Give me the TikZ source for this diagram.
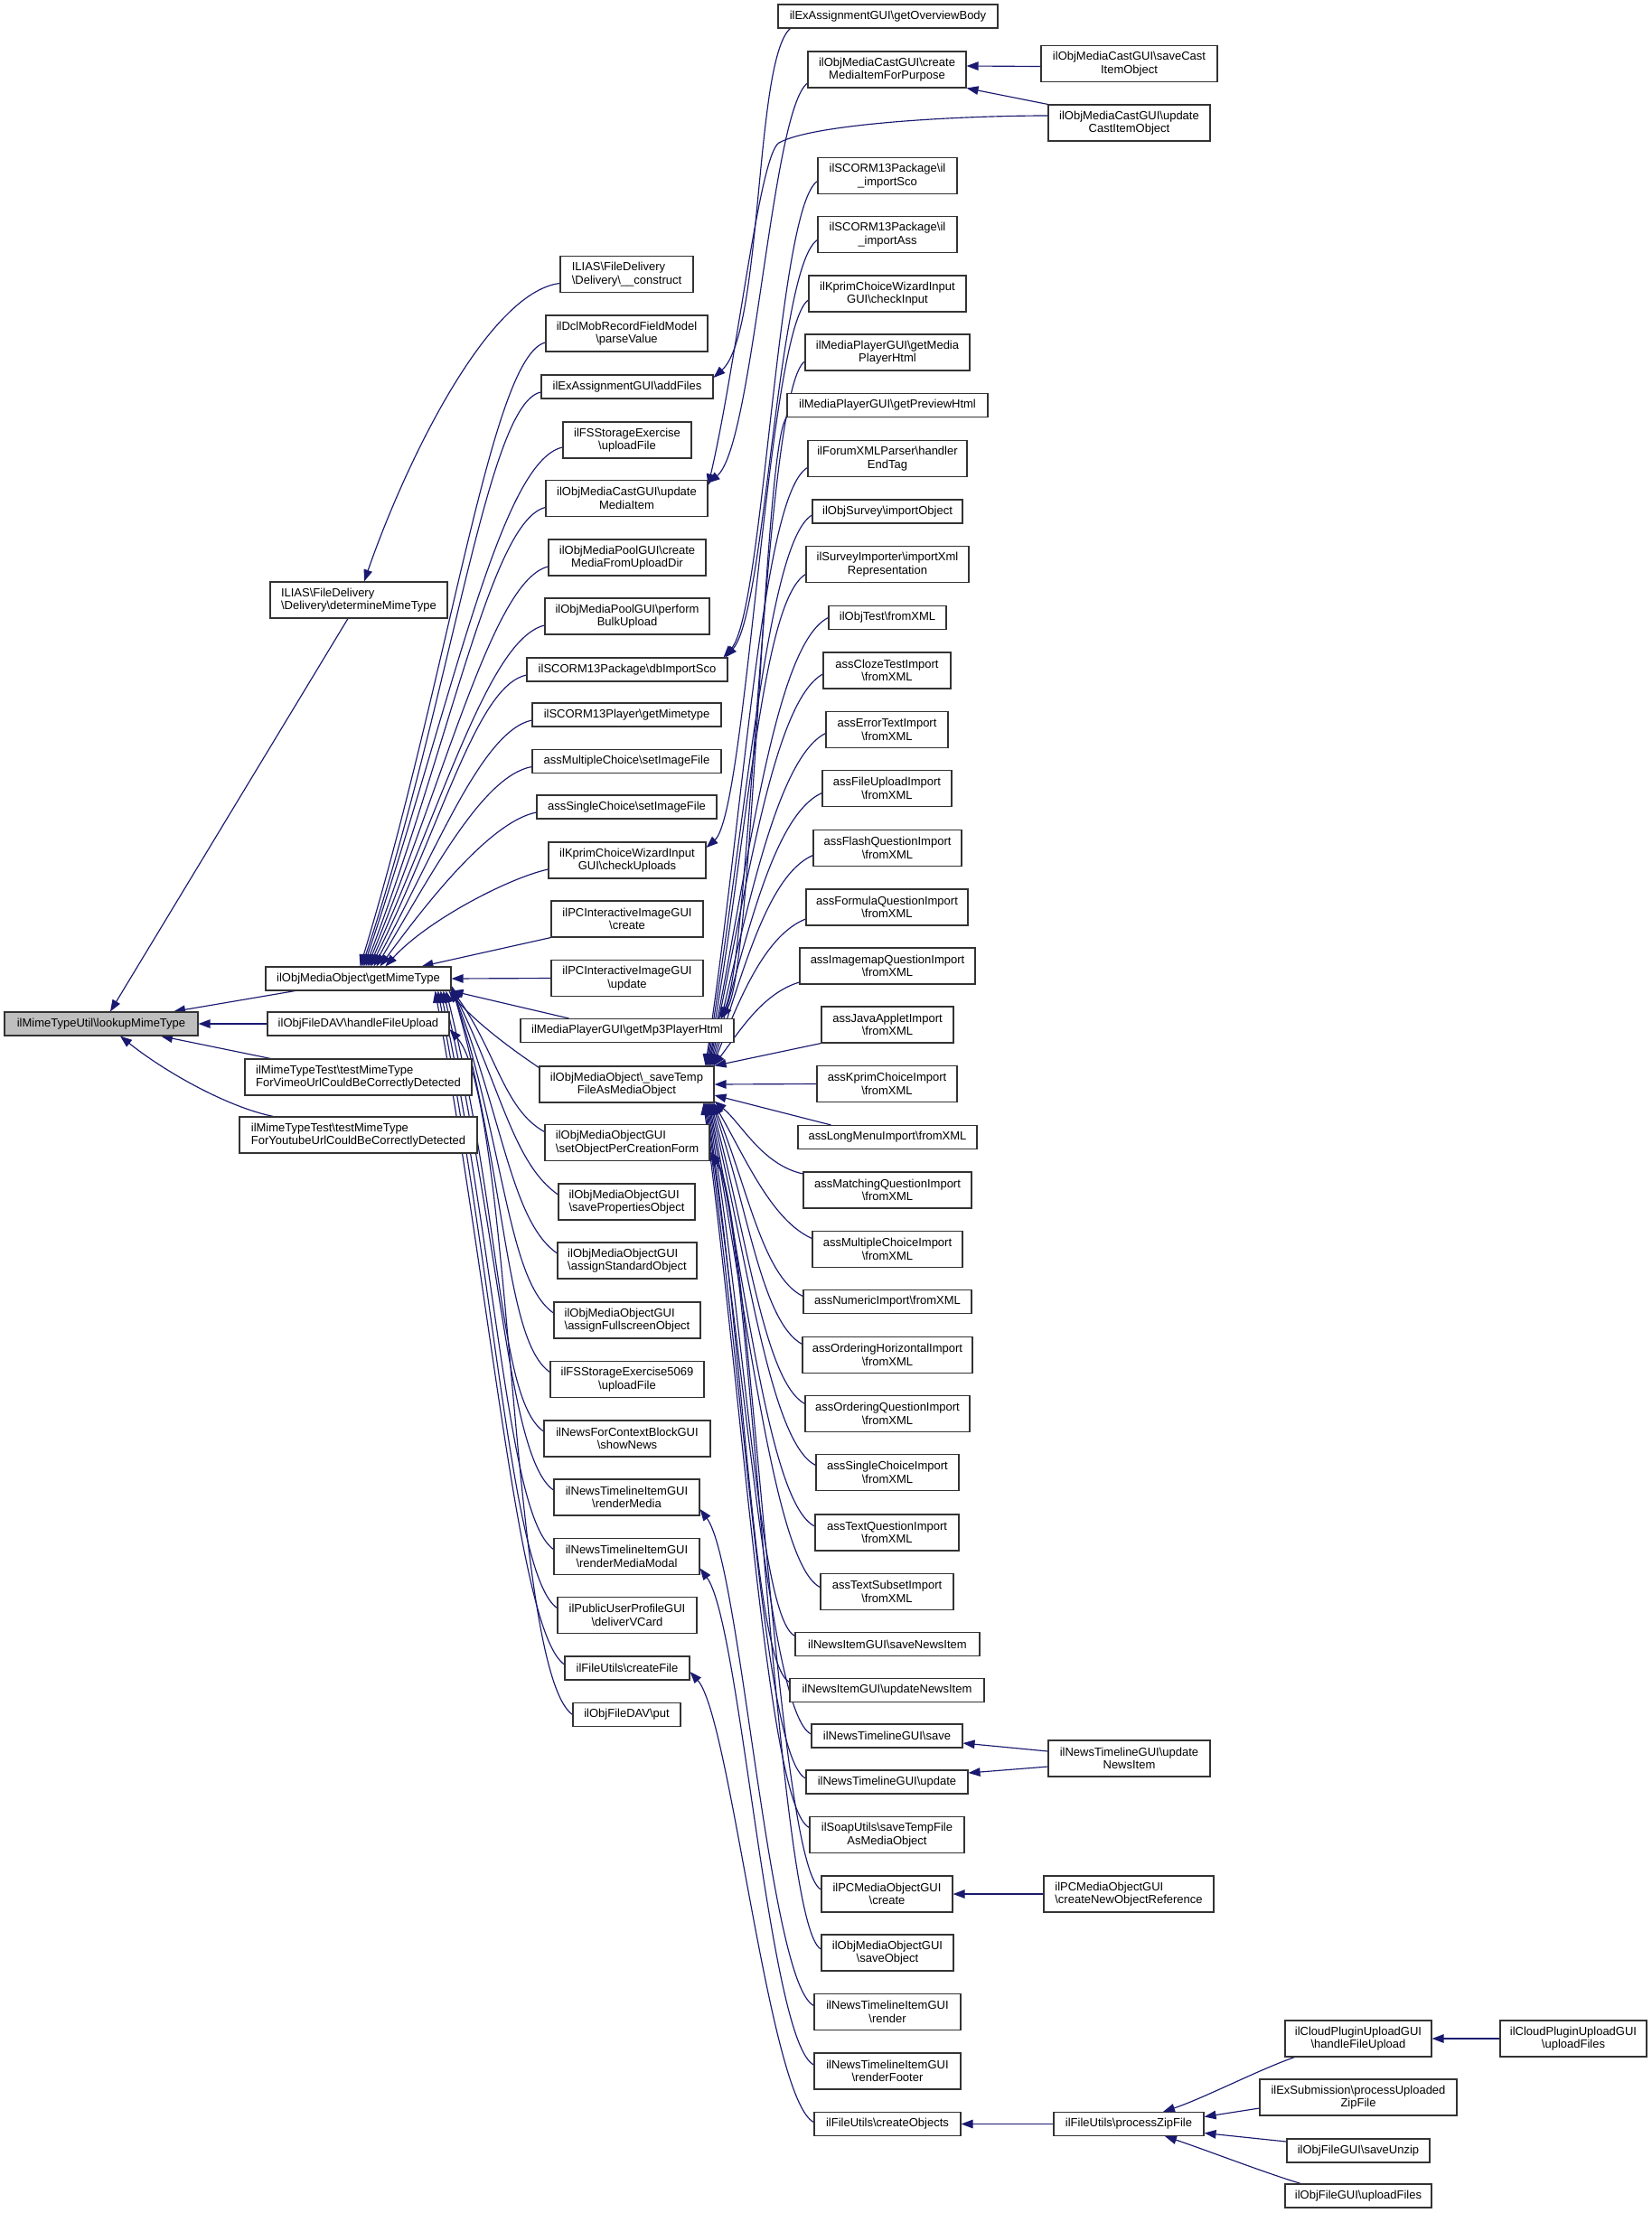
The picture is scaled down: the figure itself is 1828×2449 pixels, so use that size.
\documentclass[tikz,border=0pt]{standalone}
\usepackage{fontspec}
\setmainfont{Liberation Sans}
\usetikzlibrary{arrows.meta,backgrounds}
\definecolor{edgec}{HTML}{191970}
\newcommand{\mybs}{\textbackslash}
\newcommand{\nfont}{\fontsize{13}{14.5}\selectfont}
\tikzset{
  nd/.style={draw=black!80, line width=1.1pt, fill=white, rectangle, inner sep=1pt, minimum height=26pt, align=center, font=\nfont},
  twoline/.style={minimum height=40pt},
  leftal/.style={align=left},
  arr/.style={draw=edgec, line width=1.15pt, {Triangle[length=13pt,width=9.5pt]}-},
}
\begin{document}
\begin{tikzpicture}[x=1pt,y=1pt]
\useasboundingbox (0,0) rectangle (1828,-2449);
% column 1
\node[nd,fill=black!25,minimum width=214] (lookup) at (112,-1133) {ilMimeTypeUtil\mybs lookupMimeType};
% column 2
\node[nd,twoline,leftal,minimum width=196] (det) at (397,-664) {ILIAS\mybs FileDelivery\\\mybs Delivery\mybs determineMimeType};
\node[nd,minimum width=205] (gmt) at (396.5,-1083) {ilObjMediaObject\mybs getMimeType};
\node[nd,minimum width=201] (dav) at (396.5,-1133) {ilObjFileDAV\mybs handleFileUpload};
\node[nd,twoline,leftal,minimum width=251] (vim) at (396.5,-1192) {ilMimeTypeTest\mybs testMimeType\\ForVimeoUrlCouldBeCorrectlyDetected};
\node[nd,twoline,leftal,minimum width=263] (yt) at (396.5,-1256) {ilMimeTypeTest\mybs testMimeType\\ForYoutubeUrlCouldBeCorrectlyDetected};
% column 3
\node[nd,twoline,leftal,minimum width=147] (c1) at (693.5,-303.5) {ILIAS\mybs FileDelivery\\\mybs Delivery\mybs \_\_construct};
\node[nd,twoline,minimum width=179] (c2) at (693.5,-369) {ilDclMobRecordFieldModel\\\mybs parseValue};
\node[nd,minimum width=190] (c3) at (694,-428) {ilExAssignmentGUI\mybs addFiles};
\node[nd,twoline,minimum width=142] (c4) at (694,-487) {ilFSStorageExercise\\\mybs uploadFile};
\node[nd,twoline,minimum width=179] (c5) at (693.5,-551.5) {ilObjMediaCastGUI\mybs update\\MediaItem};
\node[nd,twoline,minimum width=174] (c6) at (694,-617) {ilObjMediaPoolGUI\mybs create\\MediaFromUploadDir};
\node[nd,twoline,minimum width=182] (c7) at (694,-682) {ilObjMediaPoolGUI\mybs perform\\BulkUpload};
\node[nd,minimum width=222] (c8) at (694,-741) {ilSCORM13Package\mybs dbImportSco};
\node[nd,minimum width=209] (c9) at (693.5,-791) {ilSCORM13Player\mybs getMimetype};
\node[nd,minimum width=209] (c10) at (693.5,-842.5) {assMultipleChoice\mybs setImageFile};
\node[nd,minimum width=199] (c11) at (693.5,-893) {assSingleChoice\mybs setImageFile};
\node[nd,twoline,minimum width=174] (c12) at (694,-952) {ilKprimChoiceWizardInput\\GUI\mybs checkUploads};
\node[nd,twoline,minimum width=168] (c13) at (694,-1017) {ilPCInteractiveImageGUI\\\mybs create};
\node[nd,twoline,minimum width=168] (c14) at (694,-1082.5) {ilPCInteractiveImageGUI\\\mybs update};
\node[nd,minimum width=236] (c15) at (694,-1140.5) {ilMediaPlayerGUI\mybs getMp3PlayerHtml};
\node[nd,twoline,minimum width=193] (c16) at (693.5,-1200) {ilObjMediaObject\mybs \_saveTemp\\FileAsMediaObject};
\node[nd,twoline,leftal,minimum width=182] (c17) at (694,-1264.5) {ilObjMediaObjectGUI\\\mybs setObjectPerCreationForm};
\node[nd,twoline,leftal,minimum width=151] (c18) at (693.5,-1330) {ilObjMediaObjectGUI\\\mybs savePropertiesObject};
\node[nd,twoline,leftal,minimum width=154] (c19) at (694,-1395) {ilObjMediaObjectGUI\\\mybs assignStandardObject};
\node[nd,twoline,leftal,minimum width=162] (c20) at (694,-1461) {ilObjMediaObjectGUI\\\mybs assignFullscreenObject};
\node[nd,twoline,minimum width=170] (c21) at (694,-1526.5) {ilFSStorageExercise5069\\\mybs uploadFile};
\node[nd,twoline,minimum width=184] (c22) at (694,-1592) {ilNewsForContextBlockGUI\\\mybs showNews};
\node[nd,twoline,minimum width=161] (c23) at (693.5,-1657) {ilNewsTimelineItemGUI\\\mybs renderMedia};
\node[nd,twoline,minimum width=161] (c24) at (693.5,-1722.5) {ilNewsTimelineItemGUI\\\mybs renderMediaModal};
\node[nd,twoline,minimum width=154] (c25) at (694,-1787.5) {ilPublicUserProfileGUI\\\mybs deliverVCard};
\node[nd,minimum width=138] (c26) at (694,-1846) {ilFileUtils\mybs createFile};
\node[nd,minimum width=119] (c27) at (693.5,-1897.5) {ilObjFileDAV\mybs put};
% column 4
\node[nd,minimum width=243] (d1) at (982.5,-18) {ilExAssignmentGUI\mybs getOverviewBody};
\node[nd,twoline,minimum width=175] (d2) at (981.5,-77) {ilObjMediaCastGUI\mybs create\\MediaItemForPurpose};
\node[nd,twoline,minimum width=154] (d3) at (982,-194.5) {ilSCORM13Package\mybs il\\\_importSco};
\node[nd,twoline,minimum width=154] (d4) at (982,-259.5) {ilSCORM13Package\mybs il\\\_importAss};
\node[nd,twoline,minimum width=174] (d5) at (982,-325) {ilKprimChoiceWizardInput\\GUI\mybs checkInput};
\node[nd,twoline,minimum width=182] (d6) at (982,-390) {ilMediaPlayerGUI\mybs getMedia\\PlayerHtml};
\node[nd,minimum width=222] (d7) at (982,-448.5) {ilMediaPlayerGUI\mybs getPreviewHtml};
\node[nd,twoline,minimum width=176] (d8) at (982,-507.5) {ilForumXMLParser\mybs handler\\EndTag};
\node[nd,minimum width=166] (d9) at (982,-566) {ilObjSurvey\mybs importObject};
\node[nd,twoline,minimum width=180] (d10) at (982,-624.5) {ilSurveyImporter\mybs importXml\\Representation};
\node[nd,minimum width=130] (d11) at (982,-683.5) {ilObjTest\mybs fromXML};
\node[nd,twoline,minimum width=141] (d12) at (981.5,-742) {assClozeTestImport\\\mybs fromXML};
\node[nd,twoline,minimum width=135] (d13) at (981.5,-807.5) {assErrorTextImport\\\mybs fromXML};
\node[nd,twoline,minimum width=143] (d14) at (981.5,-872.5) {assFileUploadImport\\\mybs fromXML};
\node[nd,twoline,minimum width=164] (d15) at (982,-938.5) {assFlashQuestionImport\\\mybs fromXML};
\node[nd,twoline,minimum width=179] (d16) at (981.5,-1004) {assFormulaQuestionImport\\\mybs fromXML};
\node[nd,twoline,minimum width=194] (d17) at (982,-1069) {assImagemapQuestionImport\\\mybs fromXML};
\node[nd,twoline,minimum width=146] (d18) at (982,-1134) {assJavaAppletImport\\\mybs fromXML};
\node[nd,twoline,minimum width=155] (d19) at (981.5,-1199.5) {assKprimChoiceImport\\\mybs fromXML};
\node[nd,minimum width=198] (d20) at (982,-1258.5) {assLongMenuImport\mybs fromXML};
\node[nd,twoline,minimum width=186] (d21) at (982,-1317) {assMatchingQuestionImport\\\mybs fromXML};
\node[nd,twoline,minimum width=166] (d22) at (982,-1382.5) {assMultipleChoiceImport\\\mybs fromXML};
\node[nd,minimum width=186] (d23) at (982,-1440.5) {assNumericImport\mybs fromXML};
\node[nd,twoline,minimum width=188] (d24) at (982,-1499.5) {assOrderingHorizontalImport\\\mybs fromXML};
\node[nd,twoline,minimum width=182] (d25) at (982,-1564.5) {assOrderingQuestionImport\\\mybs fromXML};
\node[nd,twoline,minimum width=158] (d26) at (982,-1629.5) {assSingleChoiceImport\\\mybs fromXML};
\node[nd,twoline,minimum width=159] (d27) at (981.5,-1696) {assTextQuestionImport\\\mybs fromXML};
\node[nd,twoline,minimum width=147] (d28) at (981.5,-1761.5) {assTextSubsetImport\\\mybs fromXML};
\node[nd,minimum width=204] (d29) at (982,-1819.5) {ilNewsItemGUI\mybs saveNewsItem};
\node[nd,minimum width=215] (d30) at (981.5,-1870.5) {ilNewsItemGUI\mybs updateNewsItem};
\node[nd,minimum width=167] (d31) at (981.5,-1921) {ilNewsTimelineGUI\mybs save};
\node[nd,minimum width=179] (d32) at (981.5,-1972) {ilNewsTimelineGUI\mybs update};
\node[nd,twoline,minimum width=171] (d33) at (981.5,-2030.5) {ilSoapUtils\mybs saveTempFile\\AsMediaObject};
\node[nd,twoline,minimum width=145] (d34) at (981.5,-2096) {ilPCMediaObjectGUI\\\mybs create};
\node[nd,twoline,minimum width=146] (d35) at (982,-2161) {ilObjMediaObjectGUI\\\mybs saveObject};
\node[nd,twoline,minimum width=162] (d36) at (982,-2226.5) {ilNewsTimelineItemGUI\\\mybs render};
\node[nd,twoline,minimum width=162] (d37) at (982,-2292) {ilNewsTimelineItemGUI\\\mybs renderFooter};
\node[nd,minimum width=162] (d38) at (982,-2350.5) {ilFileUtils\mybs createObjects};
% column 5
\node[nd,twoline,minimum width=195] (e1) at (1249.5,-70.5) {ilObjMediaCastGUI\mybs saveCast\\ItemObject};
\node[nd,twoline,minimum width=179] (e2) at (1249.5,-136) {ilObjMediaCastGUI\mybs update\\CastItemObject};
\node[nd,twoline,minimum width=179] (e3) at (1249.5,-1946) {ilNewsTimelineGUI\mybs update\\NewsItem};
\node[nd,twoline,leftal,minimum width=188] (e4) at (1249,-2096) {ilPCMediaObjectGUI\\\mybs createNewObjectReference};
\node[nd,minimum width=166] (e5) at (1249,-2350.5) {ilFileUtils\mybs processZipFile};
% column 6
\node[nd,twoline,minimum width=162] (f1) at (1503,-2256) {ilCloudPluginUploadGUI\\\mybs handleFileUpload};
\node[nd,twoline,minimum width=218] (f2) at (1503,-2321) {ilExSubmission\mybs processUploaded\\ZipFile};
\node[nd,minimum width=158] (f3) at (1503,-2380) {ilObjFileGUI\mybs saveUnzip};
\node[nd,minimum width=162] (f4) at (1503,-2430) {ilObjFileGUI\mybs uploadFiles};
% column 7
\node[nd,twoline,minimum width=162] (g1) at (1741,-2256) {ilCloudPluginUploadGUI\\\mybs uploadFiles};
% bend point of the updateCastItemObject edge
\coordinate (ucbend) at (862,-158);

\begin{scope}[on background layer]
\fill[white] (0,0) rectangle (1828,-2449);
% to lookupMimeType
\draw[arr] ([xshift=10]lookup.north) -- ([xshift=-12]det.south);
\draw[arr] ([xshift=80]lookup.north) -- ([xshift=-70]gmt.south);
\draw[arr] (lookup.east) -- (dav.west);
\draw[arr] ([xshift=66]lookup.south) -- ([xshift=29]vim.north west);
\draw[arr] ([xshift=21]lookup.south) .. controls +(50,-40) and +(-50,10) .. ([xshift=38]yt.north west);
% to determineMimeType
\draw[arr] ([xshift=6]det.north) .. controls +(45,130) and +(-80,-10) .. ([yshift=-10]c1.west);
% to getMimeType, from above
\draw[arr] ([xshift=2]gmt.north) .. controls +(100,330) and +(-60,-15) .. ([yshift=-10]c2.west);
\draw[arr] ([xshift=4]gmt.north) .. controls +(100,300) and +(-60,-12) .. ([yshift=-6]c3.west);
\draw[arr] ([xshift=6]gmt.north) .. controls +(95,280) and +(-70,-15) .. ([yshift=-8]c4.west);
\draw[arr] ([xshift=8]gmt.north) .. controls +(95,250) and +(-60,-15) .. ([yshift=-10]c5.west);
\draw[arr] ([xshift=10]gmt.north) .. controls +(90,220) and +(-60,-15) .. ([yshift=-10]c6.west);
\draw[arr] ([xshift=12]gmt.north) .. controls +(85,190) and +(-60,-15) .. ([yshift=-10]c7.west);
\draw[arr] ([xshift=14]gmt.north) .. controls +(80,160) and +(-55,-12) .. ([yshift=-6]c8.west);
\draw[arr] ([xshift=17]gmt.north) .. controls +(70,130) and +(-55,-12) .. ([yshift=-6]c9.west);
\draw[arr] ([xshift=20]gmt.north) .. controls +(60,100) and +(-55,-10) .. ([yshift=-6]c10.west);
\draw[arr] ([xshift=24]gmt.north) .. controls +(55,75) and +(-50,-10) .. ([yshift=-6]c11.west);
\draw[arr] ([xshift=30]gmt.north) .. controls +(45,50) and +(-45,-10) .. ([yshift=-10]c12.west);
\draw[arr] ([xshift=70]gmt.north) -- (c13.south west);
\draw[arr] (gmt.east) -- (c14.west);
\draw[arr] (gmt.south east) -- ([xshift=54]c15.north west);
% to getMimeType, from below
\draw[arr] ([xshift=-3]gmt.south east) .. controls +(30,-35) and +(-30,20) .. ([yshift=-2]c16.north west);
\draw[arr] ([yshift=2]gmt.south east) .. controls +(50,-70) and +(-45,25) .. ([yshift=12]c17.west);
\draw[arr] ([yshift=3]gmt.south east) .. controls +(55,-110) and +(-50,35) .. ([yshift=8]c18.west);
\draw[arr] ([yshift=4]gmt.south east) .. controls +(58,-150) and +(-50,35) .. ([yshift=8]c19.west);
\draw[arr] ([yshift=5]gmt.south east) .. controls +(60,-185) and +(-50,35) .. ([yshift=8]c20.west);
\draw[arr] ([yshift=6]gmt.south east) .. controls +(62,-215) and +(-50,35) .. ([yshift=8]c21.west);
\draw[arr] ([xshift=-6]gmt.south east) .. controls +(62,-250) and +(-50,35) .. ([yshift=8]c22.west);
\draw[arr] ([xshift=-9]gmt.south east) .. controls +(64,-280) and +(-50,35) .. ([yshift=8]c23.west);
\draw[arr] ([xshift=-12]gmt.south east) .. controls +(64,-310) and +(-50,35) .. ([yshift=8]c24.west);
\draw[arr] ([xshift=-15]gmt.south east) .. controls +(66,-340) and +(-50,35) .. ([yshift=8]c25.west);
\draw[arr] ([xshift=-18]gmt.south east) .. controls +(66,-370) and +(-50,35) .. ([yshift=4]c26.west);
% to handleFileUpload
\draw[arr] ([yshift=-6]dav.east) .. controls +(70,-80) and +(-70,50) .. (c27.west);
% column 4 -> column 3
\draw[arr] ([yshift=10]c3.east) .. controls +(55,50) and +(-40,-35) .. ([xshift=14]d1.south west);
\draw[arr] ([yshift=17]c5.east) .. controls +(50,40) and +(-40,-30) .. ([yshift=-15]d2.west);
\draw[arr] ([yshift=14]c5.east) .. controls +(32,137) and +(-22,-13) .. (ucbend) .. controls +(38,21) and +(-100,0) .. ([yshift=8]e2.west);
\draw[arr] ([xshift=-5]c8.north east) .. controls +(45,50) and +(-45,-30) .. ([yshift=-6]d3.west);
\draw[arr] ([xshift=-3]c8.north east) .. controls +(45,50) and +(-45,-30) .. ([yshift=-6]d4.west);
\draw[arr] ([yshift=14]c12.east) .. controls +(45,40) and +(-45,-30) .. ([yshift=-7]d5.west);
\draw[arr] ([xshift=-17]c15.north east) .. controls +(35,60) and +(-45,-30) .. ([yshift=-10]d6.west);
\draw[arr] ([xshift=-14]c15.north east) .. controls +(35,60) and +(-25,-25) .. (d7.south west);
% to _saveTempFileAsMediaObject, from above
\draw[arr] ([xshift=-10]c16.north east) .. controls +(45,300) and +(-50,-30) .. ([yshift=-10]d8.west);
\draw[arr] ([xshift=-9]c16.north east) .. controls +(45,275) and +(-50,-30) .. ([yshift=-4]d9.west);
\draw[arr] ([xshift=-8]c16.north east) .. controls +(45,245) and +(-50,-30) .. ([yshift=-11]d10.west);
\draw[arr] ([xshift=-7]c16.north east) .. controls +(45,220) and +(-60,-30) .. (d11.west);
\draw[arr] ([xshift=-6]c16.north east) .. controls +(42,195) and +(-55,-30) .. ([yshift=-4]d12.west);
\draw[arr] ([xshift=-5]c16.north east) .. controls +(40,165) and +(-55,-28) .. ([yshift=-4]d13.west);
\draw[arr] ([xshift=-4]c16.north east) .. controls +(38,135) and +(-55,-25) .. ([yshift=-5]d14.west);
\draw[arr] ([xshift=-3]c16.north east) .. controls +(35,105) and +(-50,-22) .. ([yshift=-8]d15.west);
\draw[arr] ([xshift=-2]c16.north east) .. controls +(30,75) and +(-45,-18) .. ([yshift=-13]d16.west);
\draw[arr] ([xshift=-1]c16.north east) .. controls +(30,40) and +(-40,-12) .. ([yshift=-18]d17.west);
\draw[arr] (c16.north east) -- (d18.south west);
\draw[arr] (c16.east) -- (d19.west);
\draw[arr] ([yshift=-12]c16.east) -- ([xshift=37]d20.north west);
% to _saveTempFileAsMediaObject, from below
\draw[arr] ([yshift=2]c16.south east) .. controls +(30,-25) and +(-45,10) .. ([yshift=18]d21.west);
\draw[arr] ([xshift=-1]c16.south east) .. controls +(35,-60) and +(-45,20) .. ([yshift=12]d22.west);
\draw[arr] ([xshift=-2]c16.south east) .. controls +(38,-90) and +(-45,22) .. ([yshift=6]d23.west);
\draw[arr] ([xshift=-3]c16.south east) .. controls +(40,-115) and +(-45,25) .. ([yshift=12]d24.west);
\draw[arr] ([xshift=-4]c16.south east) .. controls +(40,-145) and +(-45,25) .. ([yshift=11]d25.west);
\draw[arr] ([xshift=-5]c16.south east) .. controls +(42,-175) and +(-50,25) .. ([yshift=8]d26.west);
\draw[arr] ([xshift=-6]c16.south east) .. controls +(42,-205) and +(-50,25) .. ([yshift=7]d27.west);
\draw[arr] ([xshift=-7]c16.south east) .. controls +(44,-235) and +(-50,25) .. ([yshift=5]d28.west);
\draw[arr] ([xshift=-8]c16.south east) .. controls +(44,-260) and +(-40,22) .. ([yshift=9]d29.west);
\draw[arr] ([xshift=-9]c16.south east) .. controls +(44,-285) and +(-40,22) .. ([yshift=9]d30.west);
\draw[arr] ([xshift=-10]c16.south east) .. controls +(46,-310) and +(-45,22) .. ([yshift=2]d31.west);
\draw[arr] ([xshift=-11]c16.south east) .. controls +(46,-330) and +(-45,22) .. ([yshift=4]d32.west);
\draw[arr] ([xshift=-12]c16.south east) .. controls +(46,-355) and +(-45,22) .. ([yshift=8]d33.west);
% other column 4 -> column 3
\draw[arr] ([yshift=-10]c17.east) .. controls +(45,-60) and +(-50,25) .. ([yshift=5]d34.west);
\draw[arr] ([yshift=-13]c17.east) .. controls +(45,-60) and +(-50,25) .. ([yshift=4]d35.west);
\draw[arr] ([yshift=-13]c23.east) .. controls +(45,-60) and +(-50,25) .. ([yshift=7]d36.west);
\draw[arr] ([yshift=-13]c24.east) .. controls +(45,-60) and +(-50,25) .. ([yshift=7]d37.west);
\draw[arr] ([yshift=-4]c26.east) .. controls +(45,-50) and +(-50,25) .. ([yshift=2]d38.west);
% column 5 -> column 4
\draw[arr] ([yshift=4]d2.east) -- ([yshift=-3]e1.west);
\draw[arr] (d2.south east) -- (e2.north west);
\draw[arr] ([yshift=-8]d31.east) -- ([yshift=8]e3.west);
\draw[arr] ([yshift=10]d32.east) -- ([yshift=-9]e3.west);
\draw[arr] (d34.east) -- (e4.west);
\draw[arr] (d38.east) -- (e5.west);
% column 6 -> column 5
\draw[arr] ([xshift=38]e5.north) .. controls +(45,15) and +(-40,-14) .. ([xshift=11]f1.south west);
\draw[arr] ([yshift=8]e5.east) -- ([yshift=-12]f2.west);
\draw[arr] ([yshift=-10]e5.east) -- ([yshift=10]f3.west);
\draw[arr] ([xshift=40]e5.south) .. controls +(45,-15) and +(-40,12) .. ([xshift=18]f4.north west);
% column 7 -> column 6
\draw[arr] (f1.east) -- (g1.west);
\end{scope}
\end{tikzpicture}
\end{document}
